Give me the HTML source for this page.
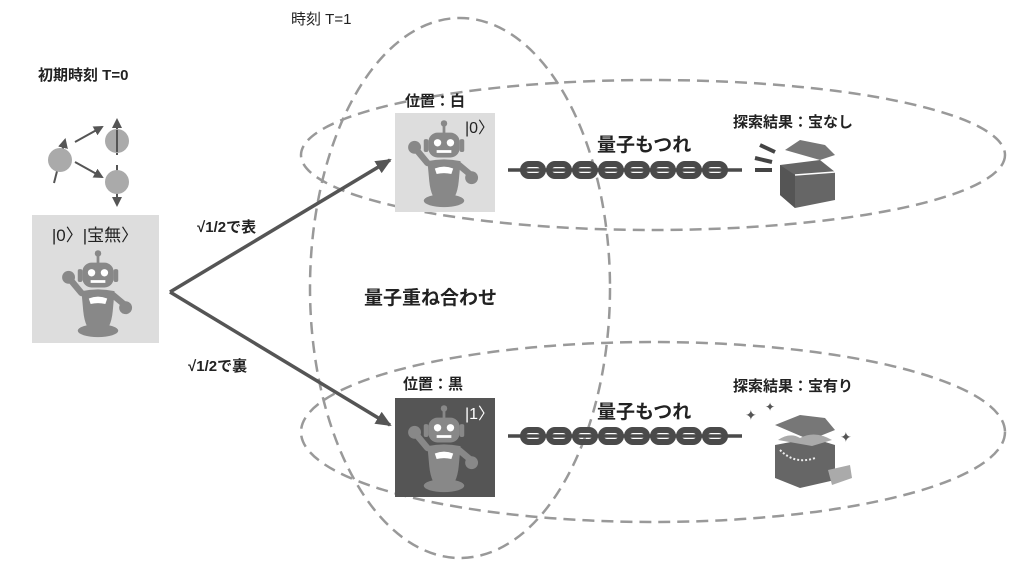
<!DOCTYPE html>
<html><head><meta charset="utf-8">
<style>
body{margin:0;background:#fff;}
svg text{font-family:"Liberation Sans","Noto Sans CJK JP",sans-serif;fill:#222;}
</style></head><body>
<svg width="1024" height="568" viewBox="0 0 1024 568" xmlns="http://www.w3.org/2000/svg">
<defs>
<g id="robot">
 <line x1="50" y1="8" x2="50" y2="18" stroke="#888" stroke-width="3"/>
 <circle cx="50" cy="7" r="3.5" fill="#888"/>
 <rect x="33" y="17" width="34" height="27" rx="10" fill="#888"/>
 <rect x="28" y="24" width="5" height="14" rx="2" fill="#888"/><rect x="67" y="24" width="5" height="14" rx="2" fill="#888"/>
 <circle cx="43" cy="28" r="4" fill="#fff"/><circle cx="57" cy="28" r="4" fill="#fff"/>
 <rect x="42" y="36" width="16" height="3" fill="#fff"/>
 <path d="M32 48 Q50 44 68 48 L66 70 Q65 80 62 86 L38 86 Q35 80 34 70 Z" fill="#888"/>
 <path d="M40 56 Q50 52 60 56 L58 62 Q50 60 42 62 Z" fill="#fff"/>
 <path d="M32 50 L22 38" stroke="#888" stroke-width="7" stroke-linecap="round"/>
 <circle cx="18" cy="33" r="7" fill="#888"/>
 <path d="M66 52 L78 62" stroke="#888" stroke-width="7" stroke-linecap="round"/>
 <circle cx="80" cy="66" r="7" fill="#888"/>
 <ellipse cx="50" cy="91" rx="22" ry="7" fill="#888"/>
</g>
<g id="chain">
 <line x1="0" y1="0" x2="234" y2="0" stroke="#4a4a4a" stroke-width="3.5"/>
 <g fill="none" stroke="#4a4a4a" stroke-width="6">
  <rect x="15" y="-6" width="20" height="12" rx="6"/><rect x="41" y="-6" width="20" height="12" rx="6"/>
  <rect x="67" y="-6" width="20" height="12" rx="6"/><rect x="93" y="-6" width="20" height="12" rx="6"/>
  <rect x="119" y="-6" width="20" height="12" rx="6"/><rect x="145" y="-6" width="20" height="12" rx="6"/>
  <rect x="171" y="-6" width="20" height="12" rx="6"/><rect x="197" y="-6" width="20" height="12" rx="6"/>
 </g>
</g>
<marker id="ah" markerWidth="10" markerHeight="10" refX="8" refY="5" orient="auto" markerUnits="userSpaceOnUse">
 <path d="M0 0 L10 5 L0 10 Z" fill="#555"/></marker>
<marker id="ah2" markerWidth="16" markerHeight="14" refX="14" refY="7" orient="auto" markerUnits="userSpaceOnUse">
 <path d="M0 0 L16 7 L0 14 Z" fill="#555"/></marker>
</defs>

<g fill="none" stroke="#999" stroke-width="2.5" stroke-dasharray="12 7">
 <ellipse cx="460" cy="288" rx="150" ry="270"/>
 <ellipse cx="653" cy="155" rx="352" ry="75"/>
 <ellipse cx="653" cy="432" rx="352" ry="90"/>
</g>

<text x="291" y="24" font-size="15">時刻 T=1</text>
<text x="38" y="80" font-size="15" font-weight="bold">初期時刻 T=0</text>

<g stroke="#555" stroke-width="2">
 <line x1="75" y1="142" x2="102" y2="127" marker-end="url(#ah)"/>
 <line x1="75" y1="162" x2="102" y2="177" marker-end="url(#ah)"/>
 <line x1="54" y1="183" x2="65" y2="140" marker-end="url(#ah)"/>
 <line x1="117" y1="155" x2="117" y2="120" marker-end="url(#ah)"/>
 <line x1="117" y1="165" x2="117" y2="205" stroke-dasharray="6 3" marker-end="url(#ah)"/>
</g>
<circle cx="60" cy="160" r="12" fill="#aaa"/>
<circle cx="117" cy="141" r="12" fill="#aaa"/>
<circle cx="117" cy="182" r="12" fill="#aaa"/>
<line x1="117" y1="130" x2="117" y2="152" stroke="#555" stroke-width="2"/>

<rect x="32" y="215" width="127" height="128" fill="#ddd"/>
<text x="95" y="241" font-size="17" text-anchor="middle">|0〉|宝無〉</text>
<use href="#robot" transform="translate(52,247) scale(0.92)"/>

<g stroke="#555" stroke-width="3.5" fill="none">
 <line x1="170" y1="292" x2="390" y2="160" marker-end="url(#ah2)"/>
 <line x1="170" y1="292" x2="390" y2="425" marker-end="url(#ah2)"/>
</g>
<text x="197" y="232" font-size="15" font-weight="bold">√1/2で表</text>
<text x="188" y="371" font-size="15" font-weight="bold">√1/2で裏</text>

<text x="364" y="304" font-size="19" font-weight="bold">量子重ね合わせ</text>

<text x="405" y="106" font-size="15" font-weight="bold">位置：白</text>
<rect x="395" y="113" width="100" height="99" fill="#ddd"/>
<text x="465" y="133" font-size="16">|0〉</text>
<use href="#robot" transform="translate(398,117) scale(0.92)"/>

<text x="403" y="389" font-size="15" font-weight="bold">位置：黒</text>
<rect x="395" y="398" width="100" height="99" fill="#555"/>
<text x="465" y="419" font-size="16" style="fill:#fff">|1〉</text>
<use href="#robot" transform="translate(398,402) scale(0.92)"/>

<text x="597" y="151" font-size="19" font-weight="bold">量子もつれ</text>
<use href="#chain" transform="translate(508,170)"/>
<text x="597" y="418" font-size="19" font-weight="bold">量子もつれ</text>
<use href="#chain" transform="translate(508,436)"/>

<text x="733" y="127" font-size="15" font-weight="bold">探索結果：宝なし</text>
<text x="733" y="391" font-size="15" font-weight="bold">探索結果：宝有り</text>

<g fill="#666">
 <path d="M760 145 L775 152" stroke="#444" stroke-width="4"/>
 <path d="M755 158 L772 162" stroke="#444" stroke-width="4"/>
 <path d="M755 170 L772 170" stroke="#444" stroke-width="4"/>
 <path d="M780 165 L820 160 L835 172 L835 200 L795 208 L780 195 Z" fill="#666"/>
 <path d="M780 165 L795 175 L795 208 L780 195 Z" fill="#555"/>
 <path d="M795 175 L835 172" stroke="#fff" stroke-width="1.5"/>
 <path d="M785 150 L800 140 L825 145 L835 155 L820 160 Z" fill="#777"/>
</g>

<g>
 <text x="745" y="420" font-size="14" style="fill:#555">✦</text>
 <text x="765" y="411" font-size="12" style="fill:#555">✦</text>
 <text x="840" y="442" font-size="14" style="fill:#555">✦</text>
 <path d="M775 425 L800 415 L825 418 L835 430 L810 440 Z" fill="#777"/>
 <path d="M775 445 L812 438 L835 445 L835 480 L800 488 L775 478 Z" fill="#666"/>
 <path d="M778 440 Q790 432 800 438 Q815 430 832 440 L812 446 Z" fill="#aaa"/>
 <path d="M780 450 Q795 465 815 458" stroke="#eee" stroke-width="2" fill="none" stroke-dasharray="2 2"/>
 <path d="M828 470 L850 465 L852 478 L832 485 Z" fill="#aaa"/>
</g>
</svg>
</body></html>
